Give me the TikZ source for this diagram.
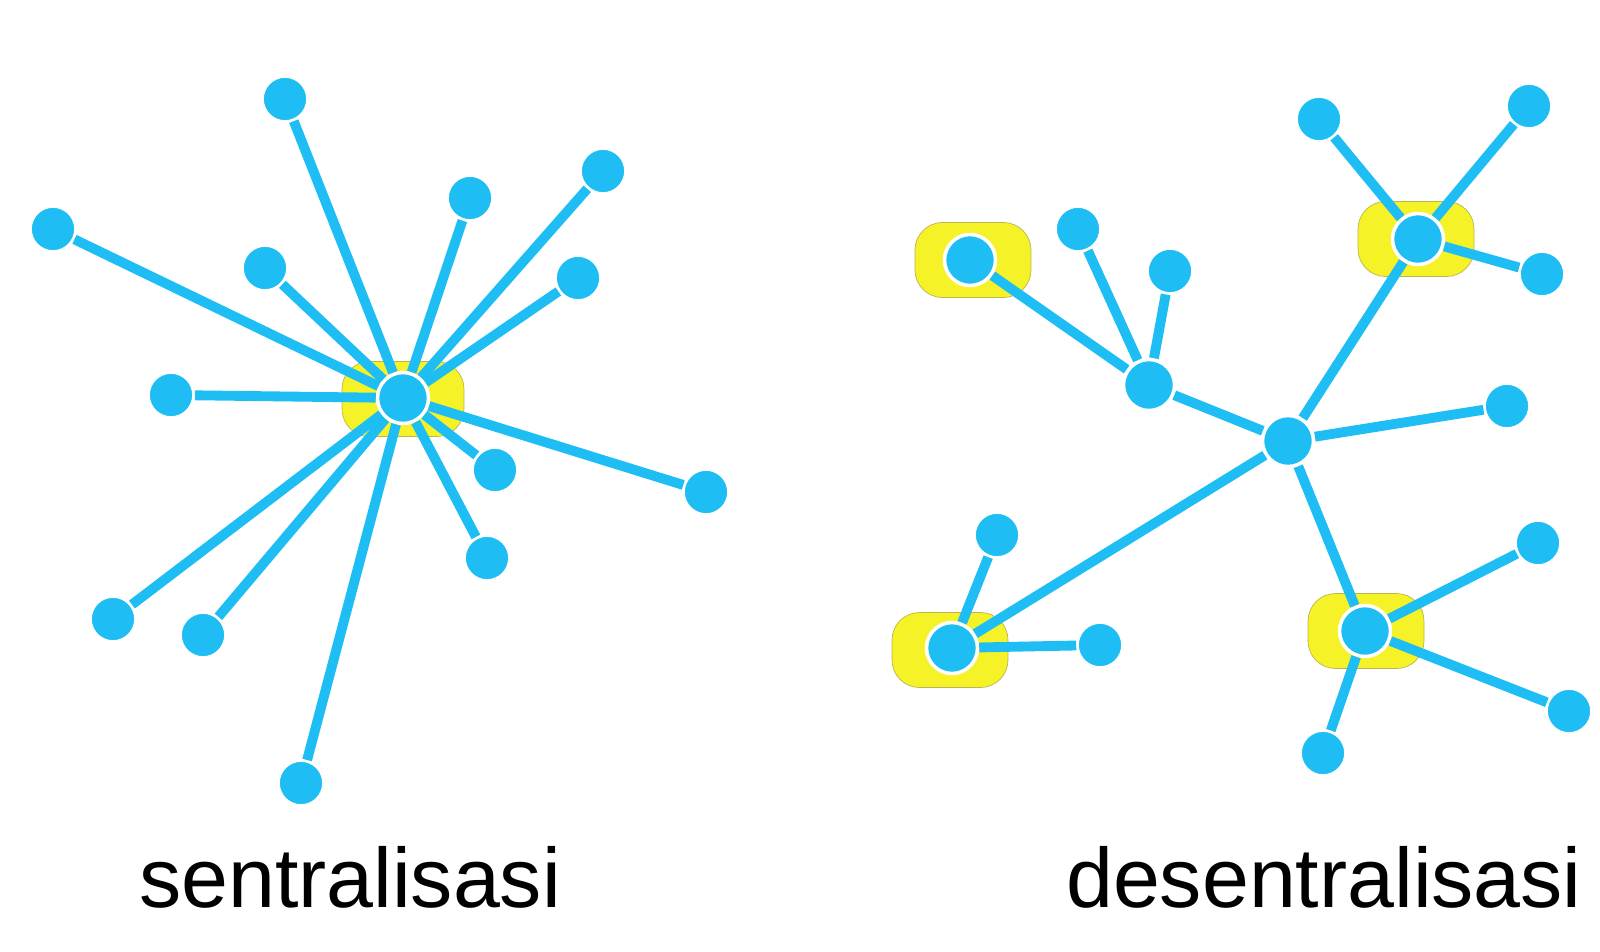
\documentclass[tikz,border=0pt]{standalone}
\usepackage{fontspec}
\setmainfont{Liberation Sans}
\definecolor{netblue}{RGB}{30,190,245}
\definecolor{hubyellow}{RGB}{246,242,40}
\begin{document}
\begin{tikzpicture}[x=0.02cm,y=-0.02cm,
  leaf/.style={circle,fill=netblue,draw=white,line width=1.5pt,minimum size=0.9cm,inner sep=0pt},
  hub/.style={leaf,line width=2pt,minimum size=1.02cm},
  glow/.style={rounded corners=0.55cm,fill=hubyellow,draw=olive!60,line width=0.4pt,minimum width=2.32cm,minimum height=1.5cm,inner sep=0pt},
  link/.style={draw=netblue,line width=5.6pt},
  caption/.style={font=\fontsize{48}{56}\selectfont,anchor=base,inner sep=0pt}]
\useasboundingbox (0,0) rectangle (1600,951);

\node[glow,minimum width=2.44cm] (sglow) at (403,399) {};
\node[hub] (shub) at (403,398) {};
\foreach \n/\x/\y in {s1/285/99,s2/53/229,s3/470/198,s4/603/171,s5/265/268,s6/578/278,s7/171/395,
    s8/495/470,s9/706/492,s10/487/558,s11/113/619,s12/203/635,s13/301/783}{
  \node[leaf] (\n) at (\x,\y) {};
  \draw[link] (shub) -- (\n);
}

\node[glow] (ga) at (973,260) {};
\node[glow] (gb) at (1416,239) {};
\node[glow] (gd) at (950,650) {};
\node[glow] (ge) at (1366,631) {};

\node[hub] (dc) at (1288,441) {};
\node[hub] (da) at (1149,385) {};
\node[hub] (db) at (1418,239) {};
\node[hub] (dd) at (952,648) {};
\node[hub] (de) at (1365,631) {};
\node[hub] (da1) at (970,260) {};
\node[leaf] (da2) at (1078,229) {};
\node[leaf] (da3) at (1170,271) {};
\node[leaf] (db1) at (1319,119) {};
\node[leaf] (db2) at (1529,106) {};
\node[leaf] (db3) at (1542,274) {};
\node[leaf] (dc1) at (1507,406) {};
\node[leaf] (dd1) at (997,535) {};
\node[leaf] (dd2) at (1100,645) {};
\node[leaf] (de1) at (1538,543) {};
\node[leaf] (de2) at (1569,711) {};
\node[leaf] (de3) at (1323,753) {};

\foreach \a/\b in {dc/da,dc/db,dc/dc1,dc/dd,dc/de,da/da1,da/da2,da/da3,db/db1,db/db2,db/db3,
    dd/dd1,dd/dd2,de/de1,de/de2,de/de3}
  \draw[link] (\a) -- (\b);

\node[caption] (scap) at (350,907) {sentralisasi};
\node[caption] (dcap) at (1324,907) {desentralisasi};
\end{tikzpicture}
\end{document}
